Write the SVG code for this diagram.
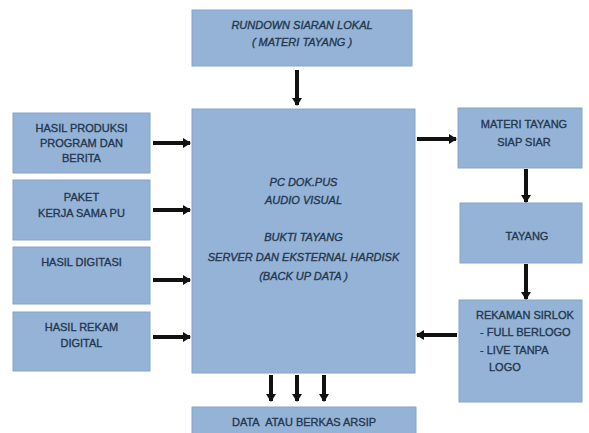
<svg xmlns="http://www.w3.org/2000/svg" width="589" height="433" viewBox="0 0 589 433">
<style>
.box{fill:#95b3d7;stroke:#86a3c8;stroke-width:1}
.t{font-family:"Liberation Sans",Arial,sans-serif;font-size:11px;fill:#24374e;stroke:#24374e;stroke-width:0.35;text-anchor:middle}
.it{font-style:italic}
.l{text-anchor:start}
.c line{stroke:#111;stroke-width:4}
</style>
<defs>
<marker id="ah" markerUnits="userSpaceOnUse" markerWidth="8" markerHeight="10" refX="7" refY="5" orient="auto">
<path d="M0,0 L8,5 L0,10 Z" fill="#111"/>
</marker>
</defs>
<rect width="589" height="433" fill="#fff"/>
<g id="rundown"><rect class="box" x="192" y="10" width="220" height="56"/>
<text class="t it" x="302" y="29" font-size="11.5">RUNDOWN SIARAN LOKAL</text>
<text class="t it" x="302" y="46" font-size="11.5">( MATERI TAYANG )</text></g>
<g id="pc"><rect class="box" x="192" y="109" width="223" height="264"/>
<text class="t it" x="303.5" y="186">PC DOK.PUS</text>
<text class="t it" x="303.5" y="204">AUDIO VISUAL</text>
<text class="t it" x="303.5" y="241">BUKTI TAYANG</text>
<text class="t it" x="303.5" y="261">SERVER DAN EKSTERNAL HARDISK</text>
<text class="t it" x="303.5" y="280">(BACK UP DATA )</text></g>
<g id="produksi"><rect class="box" x="13" y="113" width="137" height="60"/>
<text class="t" x="81.5" y="132" font-size="10.5">HASIL PRODUKSI</text>
<text class="t" x="81.5" y="147" font-size="10.5">PROGRAM DAN</text>
<text class="t" x="81.5" y="162" font-size="10.5">BERITA</text></g>
<g id="paket"><rect class="box" x="13" y="180" width="137" height="60"/>
<text class="t" x="81.5" y="201">PAKET</text>
<text class="t" x="81.5" y="217">KERJA SAMA PU</text></g>
<g id="digitasi"><rect class="box" x="13" y="247" width="137" height="57"/>
<text class="t" x="81.5" y="266">HASIL DIGITASI</text></g>
<g id="rekam"><rect class="box" x="13" y="312" width="137" height="59"/>
<text class="t" x="81.5" y="331">HASIL REKAM</text>
<text class="t" x="81.5" y="347">DIGITAL</text></g>
<g id="materi"><rect class="box" x="458" y="108" width="124" height="60"/>
<text class="t" x="524" y="128">MATERI TAYANG</text>
<text class="t" x="524" y="146">SIAP SIAR</text></g>
<g id="tayang"><rect class="box" x="460" y="203" width="122" height="60"/>
<text class="t" x="527" y="240" font-size="11.5">TAYANG</text></g>
<g id="sirlok"><rect class="box" x="459" y="300" width="123" height="102"/>
<text class="t l" x="476" y="319">REKAMAN SIRLOK</text>
<text class="t l" x="480" y="336">- FULL BERLOGO</text>
<text class="t l" x="480" y="354">- LIVE TANPA</text>
<text class="t l" x="489" y="371">LOGO</text></g>
<g id="arsip"><rect class="box" x="192" y="407" width="224" height="34"/>
<text class="t" x="304" y="426">DATA&#160; ATAU BERKAS ARSIP</text></g>
<g class="c" id="connectors">
<line x1="297" y1="70" x2="297" y2="105" marker-end="url(#ah)"/>
<line x1="153" y1="143" x2="190" y2="143" marker-end="url(#ah)"/>
<line x1="153" y1="210" x2="190" y2="210" marker-end="url(#ah)"/>
<line x1="153" y1="280" x2="190" y2="280" marker-end="url(#ah)"/>
<line x1="153" y1="337" x2="190" y2="337" marker-end="url(#ah)"/>
<line x1="417" y1="139" x2="456" y2="139" marker-end="url(#ah)"/>
<line x1="526" y1="169" x2="526" y2="202" marker-end="url(#ah)"/>
<line x1="526" y1="264" x2="526" y2="299" marker-end="url(#ah)"/>
<line x1="457" y1="335" x2="417" y2="335" marker-end="url(#ah)"/>
<line x1="271" y1="375" x2="271" y2="401" marker-end="url(#ah)"/>
<line x1="297" y1="375" x2="297" y2="401" marker-end="url(#ah)"/>
<line x1="324" y1="375" x2="324" y2="401" marker-end="url(#ah)"/>
</g>
</svg>
